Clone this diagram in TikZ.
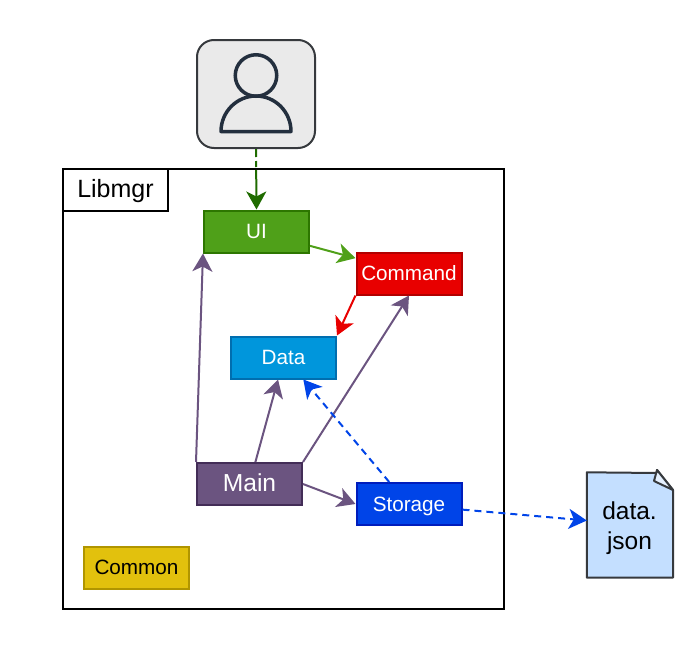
\documentclass[tikz,border=0pt]{standalone}
\usepackage{fontspec}
\setmainfont{Liberation Sans}
\usetikzlibrary{arrows.meta}
\definecolor{uigreen}{HTML}{4FA019}
\definecolor{uiborder}{HTML}{2D7600}
\definecolor{uilink}{HTML}{1F6B00}
\definecolor{cmdred}{HTML}{E80000}
\definecolor{cmdborder}{HTML}{B20000}
\definecolor{datablue}{HTML}{0096DC}
\definecolor{databorder}{HTML}{006EAF}
\definecolor{mainpurple}{HTML}{6B5480}
\definecolor{mainborder}{HTML}{432D57}
\definecolor{storeblue}{HTML}{0044E8}
\definecolor{storeborder}{HTML}{001DBC}
\definecolor{commonyellow}{HTML}{E2C10D}
\definecolor{commonborder}{HTML}{B09500}
\definecolor{userfill}{HTML}{EAEAEA}
\definecolor{useredge}{HTML}{36393D}
\definecolor{usericon}{HTML}{232F3E}
\definecolor{docblue}{HTML}{C4DFFF}
\definecolor{docfold}{HTML}{E6F1FF}
\begin{document}
\begin{tikzpicture}
[x=1pt,y=-1pt,
 comp/.style={rectangle,draw,line width=2pt,minimum width=105pt,minimum height=42pt,
   inner sep=0pt,text=white,text height=15.5pt,text depth=1.5pt,font=\fontsize{20.7}{24}\selectfont},
 link/.style={line width=2pt,-{Stealth[length=18pt,width=20pt,inset=5pt]}},
 dashlink/.style={link,dash pattern=on 7pt off 5pt}]
\useasboundingbox (0,0) rectangle (697,659);
% outer frame
\node (frame) at (283.5,389) [rectangle,draw=black,line width=2pt,minimum width=441pt,minimum height=440pt] {};
\node (title) at (115.5,190) [rectangle,draw=black,fill=white,line width=2pt,minimum width=105pt,minimum height=42pt,
  inner sep=0pt,text height=18pt,text depth=3pt,font=\fontsize{25}{30}\selectfont] {Libmgr};
% user icon
\node (user) at (256,94) [rectangle,rounded corners=17pt,draw=useredge,fill=userfill,line width=2pt,
  minimum width=118pt,minimum height=108pt] {};
\node (head) at (256,75.5) [circle,draw=usericon,line width=3.5pt,minimum size=41.5pt,inner sep=0pt] {};
\draw [draw=usericon,line width=3.5pt,line join=round]
  (221,131.5) arc (180:360:35 and 35.5) -- cycle;
% components
\node (ui) at (256.5,231.5) [comp,draw=uiborder,fill=uigreen] {UI};
\node (command) at (409,273.5) [comp,draw=cmdborder,fill=cmdred] {Command};
\node (data) at (283.5,357.5) [comp,draw=databorder,fill=datablue] {Data};
\node (main) at (249.5,484) [comp,draw=mainborder,fill=mainpurple,text height=17.5pt,text depth=3pt,
  font=\fontsize{24.6}{28}\selectfont] {Main};
\node (storage) at (409,504) [comp,draw=storeborder,fill=storeblue] {Storage};
\node (common) at (136.5,567.5) [comp,draw=commonborder,fill=commonyellow,text=black] {Common};
% data file
\node (json) at (629.5,525) [rectangle,minimum width=85pt,minimum height=105pt,inner sep=0pt] {};
\draw [draw=useredge,fill=docblue,line width=2pt,line join=round]
  (json.north west) -- (657,473) -- (657,470) -- (673,490) -- (673,577.5) -- (json.south west) -- cycle;
\draw [draw=useredge,fill=docfold,line width=2pt,line join=round]
  (657,470) -- (654,481) -- (673,490) -- cycle;
\node (jsontext) at (629.5,528) [align=center,font=\fontsize{24.5}{30}\selectfont] {data.\\json};
% links
\draw [link,draw=uilink,dash pattern=on 8pt off 4pt on 6pt off 3pt on 100pt] (user.south) -- (ui.north);
\draw [link,draw=uigreen] (ui.-15.4) -- (command.164.7);
\draw [link,draw=cmdred] (command.south west) -- (data.north east);
\draw [link,draw=mainpurple] (main.north west) -- (ui.south west);
\draw [link,draw=mainpurple] (main.75) -- (data.-104);
\draw [link,draw=mainpurple] (main.north east) -- (command.south);
\draw [link,draw=mainpurple] (main.east) -- (storage.west);
\draw [dashlink,draw=storeblue] (storage.132) -- (data.-48);
\draw [dashlink,draw=storeblue] (storage.-6.5) -- (json.174);
\end{tikzpicture}
\end{document}
